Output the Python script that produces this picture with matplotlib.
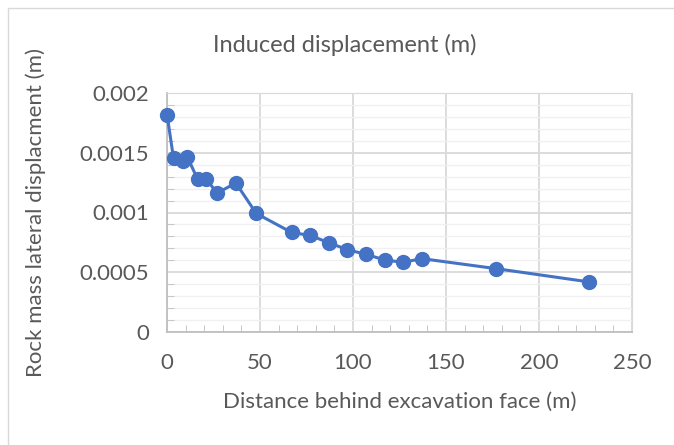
import matplotlib.pyplot as plt
from matplotlib.patches import Rectangle
from matplotlib.ticker import MultipleLocator

# data
distance = [0, 3.5, 8.5, 11, 16.5, 21, 27, 37, 48, 67, 77, 87, 97, 107, 117, 127, 137, 177, 227]
displacement = [0.00182, 0.001455, 0.001435, 0.001462, 0.001278, 0.00128, 0.001163, 0.001247,
                0.000992, 0.000833, 0.000808, 0.000747, 0.000689, 0.00065, 0.000603, 0.000583,
                0.000614, 0.00053, 0.000419]

y_ticks = [0, 0.0005, 0.001, 0.0015, 0.002]
y_tick_labels = ["0", "0.0005", "0.001", "0.0015", "0.002"]
x_ticks = [0, 50, 100, 150, 200, 250]

plt.rcParams['font.family'] = ['Lato', 'DejaVu Sans']
text_col = '#595959'

fig = plt.figure(figsize=(6.74, 4.45), dpi=100)
# outer chart border
fig.patches.append(Rectangle((8 / 674, -0.1), 1.2, 1.1 - 8 / 445, transform=fig.transFigure,
                             fill=False, edgecolor='#d9d9d9', linewidth=1))

ax = fig.add_axes([167 / 674, 1 - 332 / 445, 465 / 674, 239 / 445])

ax.plot(distance, displacement, color='#4472C4', linewidth=2.2, marker='o',
        markersize=10, zorder=3, clip_on=False)

ax.set_xlim(0, 250)
ax.set_ylim(0, 0.002)
ax.set_xticks(x_ticks)
ax.set_yticks(y_ticks)
ax.set_yticklabels(y_tick_labels)
ax.xaxis.set_minor_locator(MultipleLocator(10))
ax.yaxis.set_minor_locator(MultipleLocator(0.0001))

ax.grid(which='major', color='#d9d9d9', linewidth=1.3)
ax.grid(which='minor', axis='y', color='#f0f0f0', linewidth=1.0)
ax.set_axisbelow(True)

for s in ['top', 'right']:
    ax.spines[s].set_color('#d9d9d9')
for s in ['left', 'bottom']:
    ax.spines[s].set_color('#bfbfbf')
    ax.spines[s].set_linewidth(1.3)

ax.tick_params(which='major', length=0, labelsize=16, labelcolor=text_col, pad=13)
ax.tick_params(which='minor', direction='in', length=5, color='#bfbfbf')
ax.tick_params(axis='x', pad=15)

ax.set_xlabel("Distance behind excavation face (m)", fontsize=16, color=text_col, labelpad=14)
ax.set_ylabel("Rock mass lateral displacment (m)", fontsize=16, color=text_col, labelpad=24)
fig.text(345 / 674, 1 - 45 / 445, "Induced displacement (m)",
         ha='center', va='center', fontsize=17, color=text_col)

fig.savefig("out.png", dpi=100)
